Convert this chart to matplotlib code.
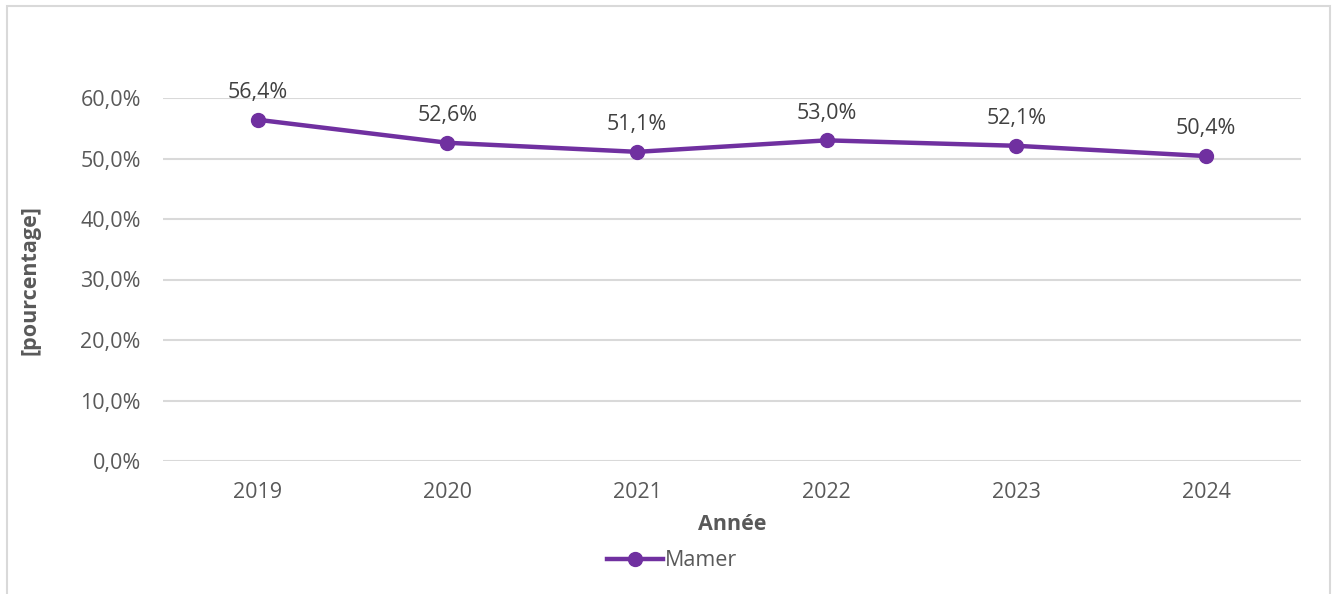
import matplotlib.pyplot as plt
from matplotlib.patches import Rectangle

annees = ['2019', '2020', '2021', '2022', '2023', '2024']
mamer = [56.4, 52.6, 51.1, 53.0, 52.1, 50.4]
yticks = [0, 10, 20, 30, 40, 50, 60]

plt.rcParams['font.family'] = ['Open Sans', 'DejaVu Sans']
gris = '#595959'
violet = '#7030A0'

W, H = 1335, 594
fig = plt.figure(figsize=(W / 100, H / 100), dpi=100)
ax = fig.add_axes([163 / W, 1 - 461 / H, (1301 - 163) / W, (461 - 98) / H])

x = list(range(len(annees)))
ax.plot(x, mamer, color=violet, linewidth=3.2, marker='o', markersize=10,
        label='Mamer', clip_on=False, zorder=3)
for xi, v in zip(x, mamer):
    ax.annotate(f'{v:.1f}%'.replace('.', ','), (xi, v), xytext=(0, 12),
                textcoords='offset points', ha='center', va='bottom',
                fontsize=15.5, color='#404040', annotation_clip=False)

ax.set_xlim(-0.5, len(annees) - 0.5)
ax.set_ylim(0, 60)
ax.set_xticks(x)
ax.set_xticklabels(annees)
ax.set_yticks(yticks)
ax.set_yticklabels([f'{t:.1f}%'.replace('.', ',') for t in yticks])
ax.tick_params(length=0, labelsize=15.5, colors=gris)
ax.tick_params(axis='x', pad=15)
ax.tick_params(axis='y', pad=16)
ax.grid(axis='y', color='#D9D9D9', linewidth=1.5)
ax.set_axisbelow(True)
for s in ax.spines.values():
    s.set_visible(False)

ax.set_xlabel('Année', fontsize=15.5, fontweight='bold', color=gris, labelpad=8)
fig.text(30 / W, 1 - 280 / H, '[pourcentage]', rotation=90, fontsize=15.5,
         fontweight='bold', color=gris, ha='center', va='center')

fig.legend(loc='center', bbox_to_anchor=(672 / W, 1 - 561 / H), frameon=False,
           fontsize=15.5, labelcolor=gris, handlelength=2.6, handletextpad=0.1)

fig.patches.append(Rectangle((7 / W, -0.05), (1330 - 7) / W, 1.05 - 6 / H,
                             transform=fig.transFigure, fill=False,
                             edgecolor='#D9D9D9', linewidth=1.5))

fig.savefig('out.png', dpi=100)
